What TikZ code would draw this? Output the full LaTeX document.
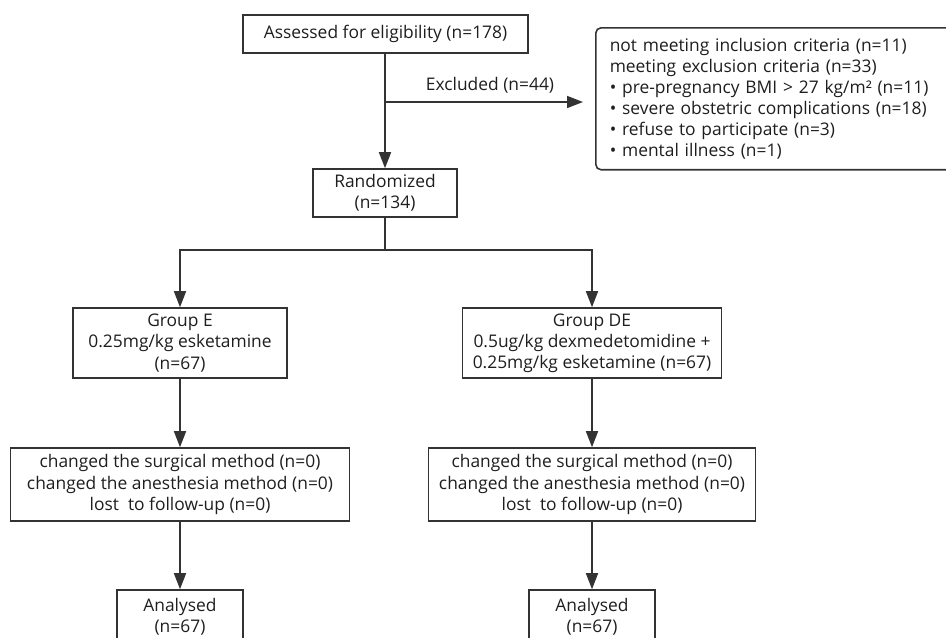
\documentclass[tikz,border=0pt]{standalone}
\usepackage{fontspec}
\setmainfont{Open Sans}
\usetikzlibrary{arrows.meta}
\definecolor{linegray}{HTML}{333333}
\definecolor{textgray}{HTML}{1E1E1E}

\begin{document}
\begin{tikzpicture}[x=0.02cm, y=-0.02cm,
    every node/.style={font=\fontsize{9.9}{12}\selectfont, text=textgray},
    box/.style={draw=linegray, line width=0.9pt, rectangle, align=center, inner sep=0pt},
    arr/.style={draw=linegray, line width=0.9pt, -{Triangle[length=0.32cm, width=0.24cm]}}]
    \clip (0,0) rectangle (946,637);
    % screening
    \node[box, minimum width=5.7cm, minimum height=0.76cm] (assess) at (385.5,34) {Assessed for eligibility (n=178)};
    \node[box, rounded corners=3pt, anchor=north west, minimum width=7.3cm, minimum height=2.84cm,
          text width=6.74cm, inner xsep=0.28cm, align=left] (excl) at (595,27) {
        not meeting inclusion criteria (n=11)\\
        meeting exclusion criteria (n=33)\\
        • pre-pregnancy BMI > 27 kg/m² (n=11)\\
        • severe obstetric complications (n=18)\\
        • refuse to participate (n=3)\\
        • mental illness (n=1)
    };
    \node[box, minimum width=2.88cm, minimum height=0.96cm] (rand) at (385,193) {Randomized\\(n=134)};
    % groups
    \node[box, minimum width=4.28cm, minimum height=1.4cm] (grpE) at (180,343) {Group E\\0.25mg/kg esketamine\\(n=67)};
    \node[box, minimum width=5.18cm, minimum height=1.4cm] (grpDE) at (592,343) {Group DE\\0.5ug/kg dexmedetomidine +\\0.25mg/kg esketamine (n=67)};
    \node[box, minimum width=6.78cm, minimum height=1.46cm] (chgE) at (180,484.5) {changed the surgical method (n=0)\\changed the anesthesia method (n=0)\\lost~ to follow-up (n=0)};
    \node[box, minimum width=6.54cm, minimum height=1.46cm] (chgDE) at (592,484.5) {changed the surgical method (n=0)\\changed the anesthesia method (n=0)\\lost~ to follow-up (n=0)};
    \node[box, minimum width=2.52cm, minimum height=1.08cm] (anaE) at (180,617) {Analysed\\(n=67)};
    \node[box, minimum width=2.52cm, minimum height=1.08cm] (anaDE) at (592,617) {Analysed\\(n=67)};
    % connectors
    \coordinate (exc) at (385,102);
    \coordinate (br) at (385,250);
    \draw[arr] (assess.south -| rand.north) -- (rand.north);
    \draw[arr, shorten >=0.24cm] (exc) -- node[above=1pt] {Excluded (n=44)} (exc -| excl.west);
    \draw[arr] (rand.south) -- (br) -| (grpE.north);
    \draw[arr] (br) -| (grpDE.north);
    \draw[arr] (grpE) -- (chgE);
    \draw[arr] (grpDE) -- (chgDE);
    \draw[arr] (chgE) -- (anaE);
    \draw[arr] (chgDE) -- (anaDE);
\end{tikzpicture}
\end{document}
